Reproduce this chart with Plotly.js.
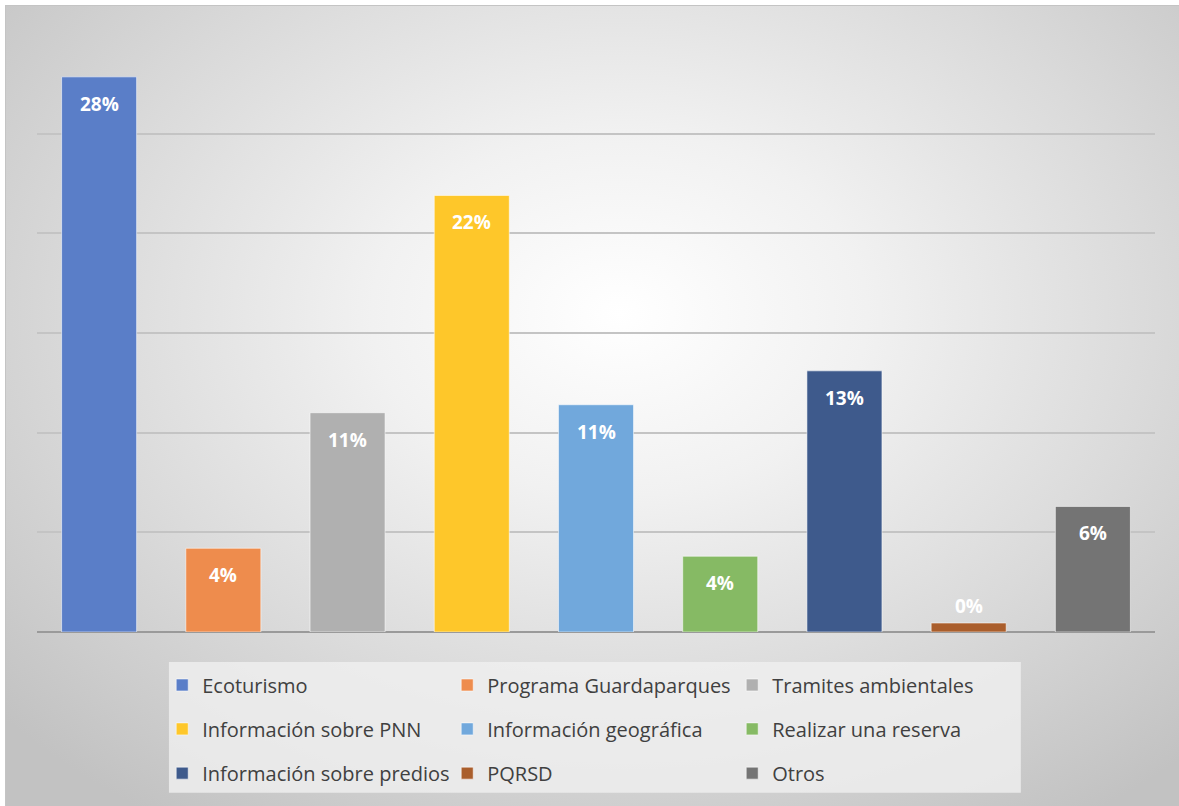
<!DOCTYPE html>
<html>
<head>
<meta charset="utf-8">
<script src="https://cdn.plot.ly/plotly-3.0.1.min.js"></script>
<style>
  html, body { margin: 0; padding: 0; background: #ffffff; }
  #wrap { position: relative; width: 1179px; height: 806px; overflow: hidden; }
  #bg { position: absolute; left: 5px; top: 5px; width: 1180px; height: 810px;
        border-top: 1px solid #c4c4c4; border-left: 1px solid #c4c4c4;
        background: radial-gradient(ellipse 70% 75% at 52% 38%, #ffffff 0%, #f1f1f1 30%, #dadada 65%, #c2c2c2 100%); }
  #chart { position: absolute; left: 0; top: 0; width: 1179px; height: 806px; }
</style>
</head>
<body>
<div id="wrap"><div id="bg"></div><div id="chart"></div></div>
<script>
const categories = ['Ecoturismo','Programa Guardaparques','Tramites ambientales','Información sobre PNN','Información geográfica','Realizar una reserva','Información sobre predios','PQRSD','Otros'];
const values = [27.85, 4.2, 11.0, 21.9, 11.4, 3.8, 13.1, 0.45, 6.3];
const labels = ['28%','4%','11%','22%','11%','4%','13%','0%','6%'];
const colors = ['#5a7ec8','#ee8c4d','#b0b0b0','#fec72a','#71a8dc','#86ba64','#3e5a8c','#aa5e2c','#747474'];

const legendIds = ['legend','legend','legend','legend2','legend2','legend2','legend3','legend3','legend3'];

const traces = categories.map((c, i) => ({
  type: 'bar',
  x: [c],
  y: [values[i]],
  name: c,
  legend: legendIds[i],
  marker: { color: colors[i], line: { color: 'rgba(255,255,255,0.55)', width: 1 } },
  hoverinfo: 'x+y'
}));

const annotations = categories.map((c, i) => ({
  x: c, y: values[i], xref: 'x', yref: 'y',
  text: '<b>' + labels[i] + '</b>',
  showarrow: false,
  yanchor: 'middle',
  yshift: values[i] < 2 ? 17 : -27,
  font: { family: 'Open Sans, sans-serif', size: 19, color: '#ffffff' }
}));

const legFont = { family: 'Open Sans, sans-serif', size: 20, color: '#404040' };
function leg(y) {
  return { orientation: 'h', x: 0.112, xanchor: 'left', y: y, yanchor: 'middle',
           bgcolor: 'rgba(0,0,0,0)', font: legFont, entrywidth: 240, entrywidthmode: 'pixels',
           traceorder: 'normal', itemclick: false, itemdoubleclick: false };
}

const layout = {
  width: 1179, height: 806,
  margin: { l: 37, r: 24, t: 34, b: 174 },
  paper_bgcolor: 'rgba(0,0,0,0)',
  plot_bgcolor: 'rgba(0,0,0,0)',
  barmode: 'overlay',
  bargap: 0.396,
  xaxis: { type: 'category', showticklabels: false, showgrid: false, zeroline: false,
           showline: false, ticks: '', fixedrange: true },
  yaxis: { range: [0, 30], dtick: 5, showticklabels: false, showgrid: true,
           gridcolor: '#c4c4c4', gridwidth: 1.5, zeroline: true, zerolinecolor: '#9a9a9a',
           zerolinewidth: 1.5, showline: false, ticks: '', fixedrange: true },
  shapes: [{ type: 'rect', xref: 'paper', yref: 'paper', x0: 0.118, x1: 0.880,
             y0: -0.269, y1: -0.050, fillcolor: 'rgba(240,240,240,0.8)', line: { width: 0 },
             layer: 'below' }],
  annotations: annotations,
  legend: leg(-0.0886),
  legend2: leg(-0.162),
  legend3: leg(-0.236),
  showlegend: true
};

Plotly.newPlot('chart', traces, layout, { displayModeBar: false, staticPlot: false });
</script>
</body>
</html>
